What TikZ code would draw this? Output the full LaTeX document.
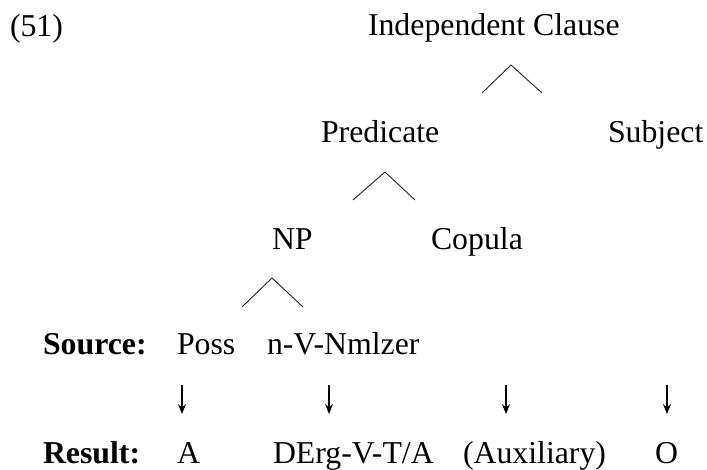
\documentclass[tikz,border=0pt]{standalone}
\usepackage{fontspec}
\setmainfont{Liberation Serif}
\usetikzlibrary{arrows.meta}
\begin{document}
\begin{tikzpicture}[x=1pt,y=-1pt,
  lbl/.style={inner sep=0pt,outer sep=0pt,anchor=base west,font=\fontsize{31.8}{38}\selectfont},
  blbl/.style={lbl,font=\fontsize{31.8}{38}\selectfont\bfseries},
  branch/.style={line width=0.9pt,draw=black!85},
  maparrow/.style={line width=1.1pt,-{Stealth[length=10pt,width=8pt,inset=3.5pt]}}]
\useasboundingbox (0,0) rectangle (707,470);
% labels
\node[lbl] (ex) at (10,37) {(51)};
\node[lbl] (ic) at (368,36) {Independent Clause};
\node[lbl] (pred) at (321,143) {Predicate};
\node[lbl] (subj) at (608,143) {Subject};
\node[lbl] (np) at (272,250) {NP};
\node[lbl] (cop) at (431,250) {Copula};
\node[blbl] (src) at (43,355) {Source:};
\node[lbl] (poss) at (177,355) {Poss};
\node[lbl] (nvn) at (267,355) {n-V-Nmlzer};
\node[blbl] (res) at (43,463) {Result:};
\node[lbl] (ra) at (177,463) {A};
\node[lbl] (derg) at (273,463) {DErg-V-T/A};
\node[lbl] (aux) at (463,463) {(Auxiliary)};
\node[lbl] (ro) at (655,463) {O};
% tree branches
\coordinate (t1) at (511,65);  \coordinate (t1l) at (482,93);  \coordinate (t1r) at (542,93);
\coordinate (t2) at (385,172); \coordinate (t2l) at (353,200); \coordinate (t2r) at (415,200);
\coordinate (t3) at (272,278); \coordinate (t3l) at (242,307); \coordinate (t3r) at (303,307);
\draw[branch] (t1l) -- (t1) -- (t1r);
\draw[branch] (t2l) -- (t2) -- (t2r);
\draw[branch] (t3l) -- (t3) -- (t3r);
% arrows
\coordinate (a1t) at (182,385); \coordinate (a1b) at (182,414);
\coordinate (a2t) at (329,385); \coordinate (a2b) at (329,414);
\coordinate (a3t) at (506,385); \coordinate (a3b) at (506,414);
\coordinate (a4t) at (667,385); \coordinate (a4b) at (667,414);
\draw[maparrow] (a1t) -- (a1b);
\draw[maparrow] (a2t) -- (a2b);
\draw[maparrow] (a3t) -- (a3b);
\draw[maparrow] (a4t) -- (a4b);
\end{tikzpicture}
\end{document}
